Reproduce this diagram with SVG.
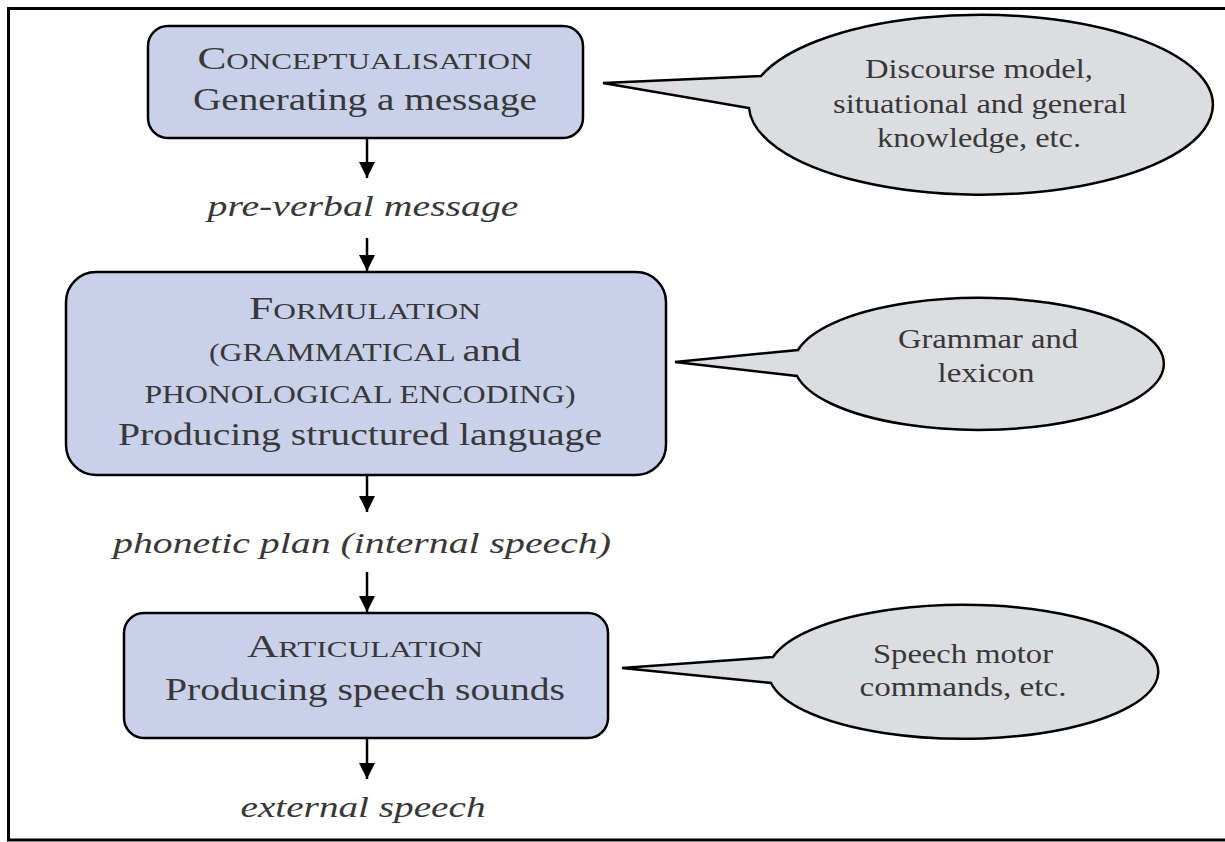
<svg xmlns="http://www.w3.org/2000/svg" width="1225" height="842" viewBox="0 0 1225 842">
<defs>
<style>
.frame{fill:none;stroke:#000;stroke-width:3}
.box{fill:#c9d0e9;stroke:#000;stroke-width:2.5}
.bubble{fill:#dcdde0;stroke:#000;stroke-width:2.5;stroke-linejoin:miter}
.t{font-family:"Liberation Serif","Times New Roman",serif;fill:#383838;text-anchor:middle}
.big{font-size:32px}
.sc{font-size:23px}
.sc2{font-size:25px}
.it{font-size:29px;font-style:italic}
.bt{font-size:27px}
.arrow{stroke:#000;stroke-width:2.5;fill:none;marker-end:url(#ah)}
</style>
<marker id="ah" viewBox="0 0 16 16" refX="16" refY="8" markerWidth="16" markerHeight="16" markerUnits="userSpaceOnUse" orient="auto">
<path d="M0,0 L16,8 L0,16 z" fill="#000"/>
</marker>
</defs>
<rect width="1225" height="842" fill="#fff"/>
<path class="frame" d="M1230,8.5 H8.5 V840 H1230"/>

<g id="connectors">
<line class="arrow" x1="367" y1="138" x2="367" y2="178"/>
<line class="arrow" x1="367" y1="238" x2="367" y2="271"/>
<line class="arrow" x1="367" y1="475" x2="367" y2="512"/>
<line class="arrow" x1="367" y1="572" x2="367" y2="612"/>
<line class="arrow" x1="367" y1="738" x2="367" y2="779"/>
</g>

<g id="conceptualisation">
<rect class="box" x="148" y="26" width="435" height="112" rx="20"/>
<text class="t" x="365" y="69" textLength="335" lengthAdjust="spacingAndGlyphs"><tspan class="big">C</tspan><tspan class="sc">ONCEPTUALISATION</tspan></text>
<text class="t big" x="365" y="110" textLength="344" lengthAdjust="spacingAndGlyphs">Generating a message</text>
</g>

<g id="pre-verbal">
<text class="t it" x="363" y="216" textLength="311" lengthAdjust="spacingAndGlyphs">pre-verbal message</text>
</g>

<g id="formulation">
<rect class="box" x="66" y="272" width="600" height="203" rx="30"/>
<text class="t" x="365" y="319" textLength="232" lengthAdjust="spacingAndGlyphs"><tspan class="big">F</tspan><tspan class="sc">ORMULATION</tspan></text>
<text class="t" x="365" y="361" textLength="312" lengthAdjust="spacingAndGlyphs"><tspan class="sc2">(GRAMMATICAL </tspan><tspan class="big">and</tspan></text>
<text class="t sc2" x="360" y="403" textLength="431" lengthAdjust="spacingAndGlyphs">PHONOLOGICAL ENCODING)</text>
<text class="t big" x="360" y="445" textLength="484" lengthAdjust="spacingAndGlyphs">Producing structured language</text>
</g>

<g id="phonetic-plan">
<text class="t it" x="362" y="553" textLength="498" lengthAdjust="spacingAndGlyphs">phonetic plan (internal speech)</text>
</g>

<g id="articulation">
<rect class="box" x="124" y="613" width="484" height="125" rx="20"/>
<text class="t" x="365" y="657" textLength="236" lengthAdjust="spacingAndGlyphs"><tspan class="big">A</tspan><tspan class="sc">RTICULATION</tspan></text>
<text class="t big" x="365" y="700" textLength="400" lengthAdjust="spacingAndGlyphs">Producing speech sounds</text>
</g>

<g id="external-speech">
<text class="t it" x="363" y="817" textLength="245" lengthAdjust="spacingAndGlyphs">external speech</text>
</g>

<g id="bubble-knowledge">
<path class="bubble" d="M761,76 A232,90 0 1 1 749,108 L603,83 Z"/>
<text class="t bt" x="979" y="78" textLength="228" lengthAdjust="spacingAndGlyphs">Discourse model,</text>
<text class="t bt" x="980" y="113" textLength="294" lengthAdjust="spacingAndGlyphs">situational and general</text>
<text class="t bt" x="979" y="147" textLength="204" lengthAdjust="spacingAndGlyphs">knowledge, etc.</text>
</g>

<g id="bubble-grammar">
<path class="bubble" d="M798,350 A185,66 0 1 1 797,376 L675,362 Z"/>
<text class="t bt" x="988" y="348" textLength="180" lengthAdjust="spacingAndGlyphs">Grammar and</text>
<text class="t bt" x="986" y="382" textLength="97" lengthAdjust="spacingAndGlyphs">lexicon</text>
</g>

<g id="bubble-motor">
<path class="bubble" d="M773,657 A195,67 0 1 1 771,683 L622,668 Z"/>
<text class="t bt" x="963" y="663" textLength="180" lengthAdjust="spacingAndGlyphs">Speech motor</text>
<text class="t bt" x="963" y="696" textLength="207" lengthAdjust="spacingAndGlyphs">commands, etc.</text>
</g>
</svg>
